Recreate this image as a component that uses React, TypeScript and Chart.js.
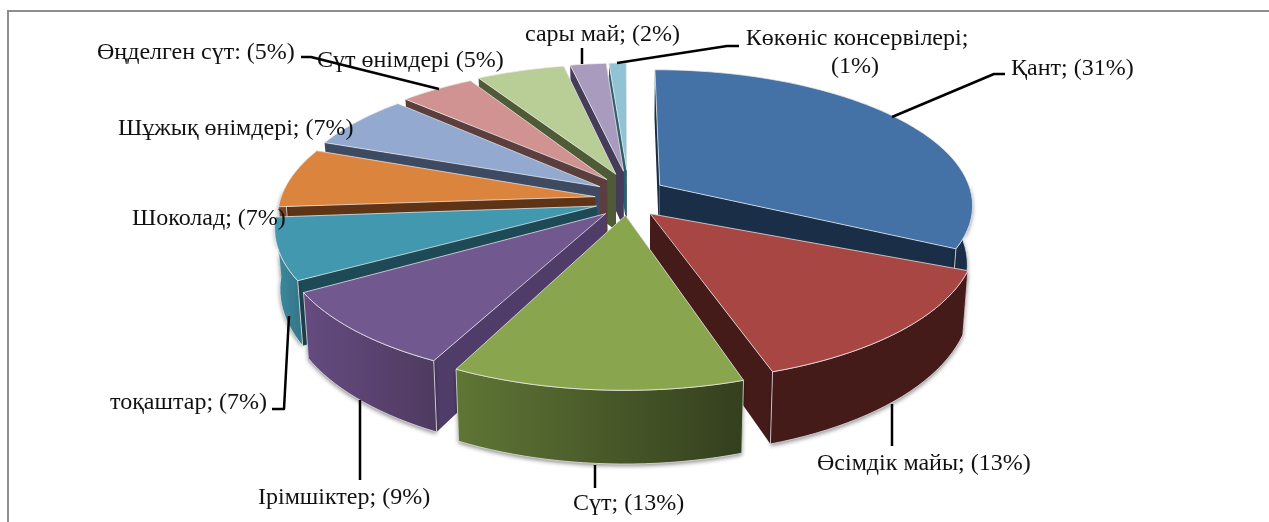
import React, { useEffect, useRef } from "react";
import { Chart, registerables } from "chart.js";

Chart.register(...registerables);

const categories = ["Қант", "Өсімдік майы", "Сүт", "Ірімшіктер", "тоқаштар", "Шоколад", "Шұжық өнімдері", "Өңделген сүт", "Сүт өнімдері", "сары май", "Көкөніс консервілері"];
const shares = [31, 13, 13, 9, 7, 7, 7, 5, 5, 2, 1];
const topColors = ["#4472A6", "#A84644", "#89A54E", "#71588F", "#4198AF", "#DB843D", "#93A9CF", "#D19392", "#B9CD96", "#A99BBD", "#92C3D4"];
const cutColors = ["#1A2E47", "#451B19", "#4F6330", "#503C68", "#1D4A56", "#5F3316", "#3D4A62", "#5A3F3E", "#4F5A36", "#453C5A", "#2C5F6E"];
const wallLeft = ["#1A2E47", "#451B19", "#5F7635", "#654B80", "#3E8CA1", "#7A4320", "#3D4A62", "#5A3F3E", "#4F5A36", "#453C5A", "#2C5F6E"];
const wallRight = ["#1A2E47", "#451B19", "#343F1E", "#4F3B60", "#35788B", "#7A4320", "#3D4A62", "#5A3F3E", "#4F5A36", "#453C5A", "#2C5F6E"];

const textLabels: [string, number, number, CanvasTextAlign][] = [
  ["Өңделген сүт: (5%)", 97, 53, "left"],
  ["Сүт өнімдері (5%)", 317, 61, "left"],
  ["сары май; (2%)", 525, 35, "left"],
  ["Көкөніс консервілері;", 857, 39, "center"],
  ["(1%)", 855, 67, "center"],
  ["Қант; (31%)", 1011, 69, "left"],
  ["Шұжық өнімдері; (7%)", 118, 129, "left"],
  ["Шоколад; (7%)", 132, 219, "left"],
  ["тоқаштар; (7%)", 110, 403, "left"],
  ["Ірімшіктер; (9%)", 258, 498, "left"],
  ["Сүт; (13%)", 573, 504, "left"],
  ["Өсімдік майы; (13%)", 817, 464, "left"],
];
const leaderLines: number[][][] = [
  [[301, 57], [311, 57], [439, 89]],
  [[582, 48], [582, 64]],
  [[739, 46], [727, 46], [617, 63]],
  [[1005, 74], [994, 74], [892, 117]],
  [[272, 409], [284, 409], [289, 316]],
  [[360, 400], [360, 480]],
  [[595, 465], [595, 488]],
  [[892, 404], [892, 446]],
];

// View of the tilted pie plane (a perspective map)
const CX = 628, AX = 312, AY = -98.8, BY = 191.8, K = 0.1825, DU = 0.106, DV = 0.168, DEPTH = 58;
const rad = (d: number) => (d * Math.PI) / 180;
function warp(t: number, mid: number) {
  if (t > 70 && t < 225) return (mid < 90 ? 3.3 : 1) * 4.2 * Math.sin((Math.PI * (t - 70)) / 155) ** 2;
  if (t > 295) return -3 * Math.sin((Math.PI * (t - 295)) / 70) ** 2;
  return 0;
}
type P = { x: number; y: number; bx: number; by: number };
function project(theta: number, r: number, mid: number): P {
  const phi = rad(theta + warp(theta, mid));
  const beta = rad(mid + warp(mid, mid));
  const sb = Math.sin(beta);
  const u = r * Math.sin(phi) + (mid < 90 ? 0.125 : DU) * sb;
  const v = r * Math.cos(phi) + DV * Math.cos(beta);
  const w = 1 + K * v;
  const x = CX + (AX * u) / w;
  const y = (AY * v + BY) / w + (r === 0 ? 7 * Math.abs(sb) : 0);
  return { x, y, bx: CX + (x - CX) * 0.985, by: y + DEPTH / w };
}
function poly(ctx: CanvasRenderingContext2D, pts: number[][]) {
  ctx.beginPath();
  pts.forEach((p, i) => (i ? ctx.lineTo(p[0], p[1]) : ctx.moveTo(p[0], p[1])));
  ctx.closePath();
}

const pie3d = {
  id: "pie3d",
  beforeDraw(chart: any) {
    const { ctx } = chart;
    ctx.save();
    ctx.strokeStyle = "#8E8E8E";
    ctx.lineWidth = 2;
    ctx.beginPath();
    ctx.moveTo(8, 522);
    ctx.lineTo(8, 11);
    ctx.lineTo(1269, 11);
    ctx.stroke();
    ctx.restore();
  },
  beforeDatasetsDraw(chart: any) {
    const { ctx } = chart;
    const arcs = chart.getDatasetMeta(0).data;
    const order = arcs
      .map((el: any, i: number) => {
        const s = ((el.startAngle + Math.PI / 2) * 180) / Math.PI;
        const e = ((el.endAngle + Math.PI / 2) * 180) / Math.PI;
        return { i, s, e, m: (s + e) / 2 };
      })
      .sort((a: any, b: any) => Math.cos(rad(b.m)) - Math.cos(rad(a.m)));
    for (const { i, s, e, m } of order) {
      const apex = project(m, 0, m);
      const arc: P[] = [];
      const n = Math.max(4, Math.ceil((e - s) / 2));
      for (let j = 0; j <= n; j++) arc.push(project(s + ((e - s) * j) / n, 1, m));
      const first = arc[0], last = arc[n];
      ctx.save();
      ctx.lineJoin = "round";
      ctx.lineWidth = 1;
      // cut faces
      ctx.fillStyle = cutColors[i];
      for (const p of [first, last]) {
        poly(ctx, [[apex.x, apex.y], [p.x, p.y], [p.bx, p.by], [apex.bx, apex.by]]);
        ctx.fill();
      }
      ctx.strokeStyle = "rgba(235,235,235,0.75)";
      // outer wall: only the part of the rim that faces the viewer
      const rim = arc.filter((_, j) => Math.cos(rad(s + ((e - s) * j) / n)) < 0.02);
      if (rim.length > 1) {
        const xs = rim.map((p) => p.x);
        const g = ctx.createLinearGradient(Math.min(...xs), 0, Math.max(...xs), 0);
        g.addColorStop(0, wallLeft[i]);
        g.addColorStop(1, wallRight[i]);
        ctx.fillStyle = g;
        poly(ctx, [...rim.map((p) => [p.x, p.y]), ...rim.slice().reverse().map((p) => [p.bx, p.by])]);
        ctx.save();
        ctx.shadowColor = "rgba(0,0,0,0.45)";
        ctx.shadowBlur = 4;
        ctx.shadowOffsetY = 2;
        ctx.fill();
        ctx.restore();
        ctx.stroke();
      }
      // top face
      ctx.fillStyle = topColors[i];
      poly(ctx, [[apex.x, apex.y], ...arc.map((p) => [p.x, p.y])]);
      ctx.fill();
      ctx.stroke();
      ctx.restore();
    }
    return false;
  },
  afterDraw(chart: any) {
    const { ctx } = chart;
    ctx.save();
    ctx.fillStyle = "#111111";
    ctx.font = '24px "Liberation Serif"';
    ctx.textBaseline = "middle";
    for (const [t, x, y, a] of textLabels) {
      ctx.textAlign = a;
      ctx.fillText(t, x, y);
    }
    ctx.strokeStyle = "#000000";
    ctx.lineWidth = 2.5;
    ctx.lineJoin = "round";
    for (const line of leaderLines) {
      ctx.beginPath();
      line.forEach((p, i) => (i ? ctx.lineTo(p[0], p[1]) : ctx.moveTo(p[0], p[1])));
      ctx.stroke();
    }
    ctx.restore();
  },
};

export default function App() {
  const ref = useRef<HTMLCanvasElement>(null);
  useEffect(() => {
    const chart = new Chart(ref.current!, {
      type: "pie",
      data: { labels: categories, datasets: [{ data: shares, backgroundColor: topColors }] },
      options: {
        animation: false,
        responsive: false,
        plugins: { legend: { display: false }, tooltip: { enabled: false } },
      },
      plugins: [pie3d],
    } as any);
    return () => chart.destroy();
  }, []);
  return (
    <canvas
      ref={ref}
      width={1269}
      height={522}
      style={{ position: "fixed", left: 0, top: 0, width: 1269, height: 522, background: "#ffffff" }}
    />
  );
}
